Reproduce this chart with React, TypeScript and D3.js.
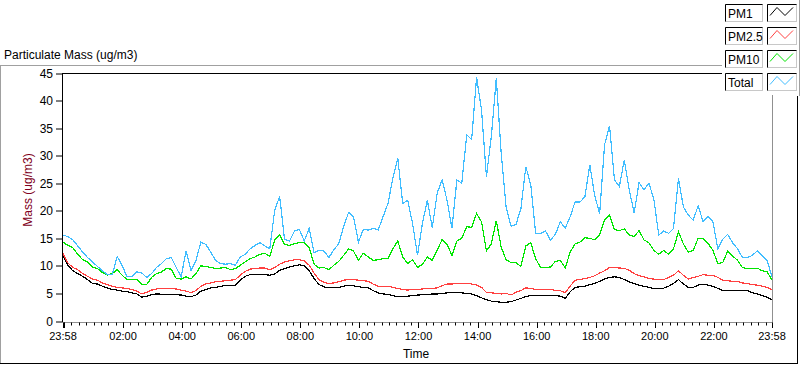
import React from 'react';
import * as d3 from 'd3';

// sampled every 10 minutes from 23:58 to 23:58 the next day
const STEP_MIN = 10;

const pm1 = [
  12.0, 10.2, 9.2, 8.7, 8.2, 7.6, 6.9, 6.8, 6.4, 6.1, 5.8, 5.7, 5.5, 5.4, 5.2, 5.0, 4.4, 4.6, 4.9, 5.0,
  4.95, 4.9, 4.9, 4.85, 4.8, 4.6, 4.5, 4.8, 5.5, 5.8, 6.1, 6.2, 6.4, 6.5, 6.5, 6.6, 7.5, 8.2, 8.5, 8.5,
  8.5, 8.5, 8.4, 8.6, 9.3, 9.6, 9.9, 10.1, 10.3, 10.1, 9.2, 7.8, 6.7, 6.3, 6.1, 6.1, 6.2, 6.4, 6.6, 6.5,
  6.3, 6.2, 6.1, 5.6, 5.2, 5.0, 4.9, 4.7, 4.5, 4.5, 4.6, 4.7, 4.8, 4.85, 4.9, 5.0, 5.0, 5.1, 5.2, 5.25,
  5.3, 5.2, 5.1, 5.0, 4.7, 4.3, 3.95, 3.7, 3.6, 3.5, 3.5, 3.6, 3.9, 4.2, 4.5, 4.7, 4.7, 4.7, 4.7, 4.75,
  4.7, 4.6, 4.2, 5.4, 6.2, 6.3, 6.4, 6.7, 6.9, 7.3, 7.7, 8.0, 8.1, 8.0, 7.6, 7.2, 6.9, 6.6, 6.4, 6.2,
  6.0, 6.0, 6.05, 6.4, 6.9, 7.6, 6.8, 6.2, 6.2, 6.6, 6.8, 6.6, 6.4, 6.0, 5.65, 5.65, 5.65, 5.65, 5.65, 5.6,
  5.2, 5.0, 4.7, 4.4, 3.95
];

const pm25 = [
  12.4, 10.6, 9.8, 9.4, 8.7, 8.2, 7.7, 7.5, 7.0, 6.7, 6.4, 6.2, 6.1, 6.0, 5.8, 5.5, 5.0, 5.3, 5.7, 5.9,
  6.0, 6.0, 6.0, 5.9, 5.7, 5.5, 5.25, 5.6, 6.4, 6.8, 7.0, 7.2, 7.3, 7.4, 7.5, 7.6, 8.4, 9.1, 9.5, 9.6,
  9.7, 9.7, 9.4, 9.8, 10.4, 10.8, 11.0, 11.2, 11.2, 11.0, 10.2, 8.8, 7.6, 7.1, 6.9, 7.0, 7.2, 7.5, 7.6, 7.6,
  7.5, 7.4, 7.3, 6.8, 6.4, 6.4, 6.4, 6.2, 6.0, 5.8, 5.7, 5.8, 5.8, 5.9, 6.0, 6.0, 6.1, 6.5, 6.8, 6.8,
  6.9, 6.9, 6.9, 6.8, 6.6, 6.2, 5.3, 5.2, 5.1, 5.0, 5.1, 4.8, 5.3, 5.6, 6.1, 6.0, 5.8, 5.8, 5.8, 5.8,
  5.65, 5.6, 5.2, 6.4, 7.5, 7.6, 7.8, 8.0, 8.3, 8.8, 9.2, 9.8, 9.8, 9.7, 9.65, 9.3, 8.7, 8.3, 8.1, 7.8,
  7.7, 7.6, 7.6, 8.0, 8.4, 9.2, 8.4, 7.7, 8.0, 8.2, 8.5, 8.4, 8.4, 8.0, 7.5, 7.4, 7.3, 7.3, 7.0, 6.9,
  6.7, 6.6, 6.4, 6.2, 5.8
];

const pm10 = [
  14.4, 13.8, 13.4, 12.2, 11.2, 10.8, 9.9, 9.6, 8.9, 8.4, 8.7, 9.4, 8.4, 7.6, 7.7, 7.6, 6.7, 6.7, 8.0, 8.7,
  9.0, 9.6, 9.5, 7.8, 7.7, 8.1, 7.7, 8.7, 10.1, 10.0, 9.8, 9.6, 9.7, 9.8, 9.4, 9.6, 10.2, 10.8, 11.4, 11.7,
  12.2, 12.4, 11.8, 14.8, 15.8, 14.0, 13.8, 14.1, 14.3, 14.3, 13.4, 10.4, 9.7, 9.8, 9.4, 10.2, 10.9, 12.0, 13.2, 12.8,
  11.1, 12.4, 11.7, 11.1, 11.2, 11.4, 11.4, 13.2, 14.6, 11.7, 10.5, 11.2, 9.8, 10.4, 11.7, 11.1, 12.9, 14.9, 14.0, 12.0,
  14.6, 15.1, 17.2, 17.1, 19.6, 18.1, 12.8, 14.1, 18.3, 13.5, 11.2, 10.7, 10.7, 10.0, 13.7, 14.3, 11.4, 9.8, 9.8, 9.9,
  10.9, 11.1, 9.7, 12.6, 14.1, 14.4, 15.2, 15.1, 14.8, 15.8, 18.5, 19.3, 16.7, 16.5, 16.8, 15.7, 15.4, 16.5, 14.8, 14.3,
  12.9, 12.2, 12.9, 12.2, 13.2, 16.3, 14.1, 12.6, 12.9, 15.1, 15.1, 14.2, 12.9, 10.5, 10.7, 12.8, 11.9, 11.1, 9.8, 9.6,
  9.6, 9.7, 9.2, 9.0, 7.5
];

const total = [
  15.7, 15.4, 14.8, 13.7, 12.6, 11.6, 10.8, 10.0, 9.2, 8.5, 8.5, 11.8, 10.2, 8.1, 8.2, 9.0, 8.8, 8.0, 8.7, 9.8,
  10.5, 11.4, 11.6, 9.8, 8.1, 12.8, 9.3, 11.1, 14.4, 14.0, 12.6, 11.1, 10.5, 10.4, 10.5, 10.2, 11.7, 12.2, 13.2, 13.8,
  14.3, 13.7, 13.2, 20.2, 22.7, 14.9, 14.6, 16.4, 16.7, 14.6, 16.9, 12.5, 12.9, 12.8, 11.6, 13.0, 14.1, 17.2, 19.8, 19.0,
  14.4, 16.7, 16.6, 16.9, 16.6, 19.0, 21.4, 26.0, 29.6, 21.4, 22.0, 17.8, 12.0, 17.8, 22.0, 17.0, 23.3, 25.7, 22.0, 16.9,
  25.7, 25.1, 33.9, 33.0, 44.3, 38.4, 26.3, 33.6, 44.1, 30.5, 20.8, 17.3, 17.6, 20.5, 28.1, 24.8, 16.0, 16.0, 16.4, 14.8,
  15.8, 18.1, 16.9, 19.0, 21.7, 21.7, 22.6, 28.4, 22.8, 19.6, 32.1, 35.5, 25.7, 24.5, 29.3, 23.9, 19.7, 25.2, 23.9, 25.1,
  22.2, 15.7, 16.4, 16.0, 16.9, 26.0, 20.8, 19.3, 18.4, 21.0, 18.1, 19.0, 18.1, 13.2, 14.9, 15.8, 14.3, 13.2, 11.6, 11.6,
  12.0, 12.8, 12.0, 11.1, 8.1
];

const seriesNames = ['PM1', 'PM2.5', 'PM10', 'Total'];
const seriesColors = ['#000000', '#ff4040', '#00e600', '#40bdff'];
const seriesData = [pm1, pm25, pm10, total];

const yTickValues = [0, 5, 10, 15, 20, 25, 30, 35, 40, 45];

const App: React.FC = () => {
  const width = 800;
  const height = 365;
  const plot = { left: 63, right: 772, top: 73.5, bottom: 321.5 };

  const start = new Date(2020, 0, 1, 23, 58);
  const end = d3.timeMinute.offset(start, 24 * 60);
  const timeAt = (i: number) => d3.timeMinute.offset(start, i * STEP_MIN);

  const x = d3.scaleTime().domain([start, end]).range([plot.left, plot.right]);
  const y = d3.scaleLinear().domain([0, 45]).range([plot.bottom, plot.top]);
  const fmt = d3.timeFormat('%H:%M');

  const minorTicks = d3.timeMinute.every(15)!.range(start, end);
  const majorTicks = d3.timeHour.every(2)!.range(start, end);
  const labelTicks = [start, ...majorTicks.filter(d => d.getHours() !== 0), end];

  const line = d3.line<number>()
    .x((_, i) => x(timeAt(i)))
    .y(v => y(v));

  const font = '"Liberation Sans", Arial, sans-serif';
  const r = (v: number) => Math.round(v) + 0.5;
  const axisY = 322.5;

  return (
    <svg width={width} height={height}
      style={{ position: 'absolute', left: 0, top: 0, background: '#ffffff' }}
      fontFamily={font}>
      {/* outer frame */}
      <line x1={0} x2={722} y1={65.5} y2={65.5} stroke="#a0a0a0" />
      <line x1={0.5} x2={0.5} y1={65} y2={364} stroke="#a0a0a0" />
      <line x1={0} x2={798} y1={363.5} y2={363.5} stroke="#000" />
      <line x1={797.5} x2={797.5} y1={96} y2={364} stroke="#000" />

      <text x={4} y={59} fontSize={12} fill="#000">Particulate Mass (ug/m3)</text>

      <defs>
        <clipPath id="plotClip">
          <rect x={plot.left} y={plot.top} width={plot.right - plot.left} height={plot.bottom - plot.top + 1} />
        </clipPath>
      </defs>

      {/* plot frame */}
      <line x1={62.5} x2={772} y1={73.5} y2={73.5} stroke="#000" />
      <line x1={62.5} x2={62.5} y1={73} y2={axisY} stroke="#000" />
      <line x1={62} x2={773} y1={axisY} y2={axisY} stroke="#909090" />
      <line x1={772.5} x2={772.5} y1={73} y2={axisY} stroke="#909090" />

      {/* y axis */}
      {yTickValues.map(v => (
        <g key={v}>
          <line x1={56} x2={62} y1={r(y(v)) - 0.5} y2={r(y(v)) - 0.5} stroke="#000" />
          <text x={53} y={y(v) + 4} textAnchor="end" fontSize={12} fill="#000">{v}</text>
        </g>
      ))}
      <text transform={`translate(32,190) rotate(-90)`} textAnchor="middle" fontSize={12} fill="#800020">
        Mass (ug/m3)
      </text>

      {/* x axis */}
      {minorTicks.map(d => (
        <line key={+d} x1={r(x(d))} x2={r(x(d))} y1={axisY} y2={axisY + 3} stroke="#000" />
      ))}
      {[start, ...majorTicks, end].map(d => (
        <line key={'M' + +d} x1={r(x(d))} x2={r(x(d))} y1={axisY} y2={axisY + 5.5} stroke="#000" />
      ))}
      {labelTicks.map((d, i) => (
        <text key={'L' + i} x={x(d)} y={340} textAnchor="middle" fontSize={11} fill="#000">{fmt(d)}</text>
      ))}
      <text x={416} y={358} textAnchor="middle" fontSize={12} fill="#000">Time</text>

      {/* series */}
      <g clipPath="url(#plotClip)">
        {seriesData.map((s, i) => (
          <path key={seriesNames[i]} d={line(s) ?? ''} fill="none" stroke={seriesColors[i]}
            strokeWidth={1.2} shapeRendering="crispEdges" />
        ))}
      </g>

      {/* legend */}
      <rect x={722} y={0} width={76} height={95} fill="#ffffff" />
      <line x1={799.5} x2={799.5} y1={0} y2={96} stroke="#a0a0a0" />
      {seriesNames.map((name, i) => {
        const top = 4.5 + i * 23;
        return (
          <g key={name}>
            <rect x={725.5} y={top} width={37} height={17} fill="#fff" stroke="#c8c8c8" />
            <path d={`M725.5,${top + 17}V${top}H762.5`} fill="none" stroke="#000" />
            <text x={728} y={top + 13} fontSize={12} fill="#000">{name}</text>
            <rect x={767.5} y={top} width={29} height={17} fill="#fff" stroke="#c8c8c8" />
            <path d={`M767.5,${top + 17}V${top}H796.5`} fill="none" stroke="#000" />
            <path d={`M770,${top + 11}L777,${top + 3}L785,${top + 11}L793,${top + 3}`}
              fill="none" stroke={seriesColors[i]} />
          </g>
        );
      })}
    </svg>
  );
};

export default App;
